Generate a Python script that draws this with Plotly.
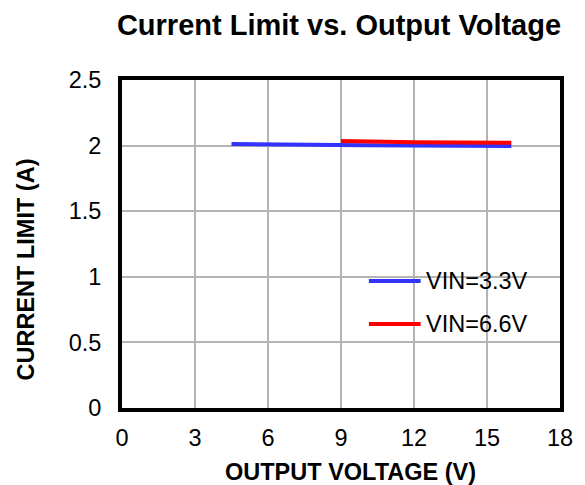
import plotly.graph_objects as go

# Data
vin33_x = [4.5, 6, 8, 10, 12, 14, 16]
vin33_y = [2.012, 2.008, 2.005, 2.003, 2.000, 1.998, 1.997]
vin66_x = [9, 10, 12, 14, 16]
vin66_y = [2.036, 2.031, 2.026, 2.023, 2.021]
names = ["VIN=3.3V", "VIN=6.6V"]
colors = ["#3333ff", "#ff0000"]
x_ticks = [0, 3, 6, 9, 12, 15, 18]
y_ticks = [0, 0.5, 1, 1.5, 2, 2.5]
y_tick_labels = ["0", "0.5", "1", "1.5", "2", "2.5"]

FONT = "Liberation Sans, Arial, sans-serif"
FS = 23.5

fig = go.Figure()
for xs, ys, nm, c in [(vin33_x, vin33_y, names[0], colors[0]), (vin66_x, vin66_y, names[1], colors[1])]:
    fig.add_trace(go.Scatter(x=xs, y=ys, mode="lines", name=nm,
                             line=dict(color=c, width=4), showlegend=False))

W, H = 585, 485
L, R, T, B = 122, 23, 80, 77
pw, ph = W - L - R, H - T - B

def px(xpix):
    return (xpix - L) / pw

def py(ypix):
    return 1 - (ypix - T) / ph

shapes = [dict(type="rect", xref="paper", yref="paper",
               x0=px(351), x1=px(548), y0=py(345), y1=py(260),
               fillcolor="white", line=dict(width=0), layer="between")]
annotations = []
for i, (nm, c) in enumerate(zip(names, colors)):
    yy = 281 + 43 * i
    shapes.append(dict(type="line", xref="paper", yref="paper",
                       x0=px(370), x1=px(422), y0=py(yy), y1=py(yy),
                       line=dict(color=c, width=4), layer="above"))
    annotations.append(dict(xref="paper", yref="paper", x=px(425), y=py(yy),
                            xanchor="left", yanchor="middle", text=nm, showarrow=False,
                            font=dict(family=FONT, size=FS, color="black")))

# axis titles
annotations.append(dict(xref="paper", yref="paper", x=px(351.5), y=py(472.5),
                        xanchor="center", yanchor="middle", text="<b>OUTPUT VOLTAGE (V)</b>",
                        showarrow=False, font=dict(family=FONT, size=FS, color="black")))
annotations.append(dict(xref="paper", yref="paper", x=px(26), y=py(269),
                        xanchor="center", yanchor="middle", text="<b>CURRENT LIMIT (A)</b>",
                        textangle=-90, showarrow=False,
                        font=dict(family=FONT, size=FS, color="black")))

fig.update_layout(
    width=W, height=H,
    margin=dict(l=L, r=R, t=T, b=B),
    paper_bgcolor="white", plot_bgcolor="white",
    title=dict(text="<b>Current Limit vs. Output Voltage</b>", x=px(340), xref="paper",
               y=1 - 25 / H, yref="container", xanchor="center", yanchor="middle",
               font=dict(family=FONT, size=29, color="black")),
    xaxis=dict(range=[0, 18], tickvals=x_ticks, showgrid=True, gridcolor="#b4b4b4", gridwidth=1.5,
               showline=True, linecolor="black", linewidth=4, mirror=True, ticks="",
               ticklabelstandoff=6,
               zeroline=False, tickfont=dict(family=FONT, size=FS, color="black")),
    yaxis=dict(range=[0, 2.5], tickvals=y_ticks, ticktext=y_tick_labels, showgrid=True,
               gridcolor="#b4b4b4", gridwidth=1.5,
               showline=True, linecolor="black", linewidth=4, mirror=True, ticks="",
               ticklabelstandoff=12,
               zeroline=False, tickfont=dict(family=FONT, size=FS, color="black")),
    shapes=shapes, annotations=annotations,
)

fig.write_html("out.html", config={"displayModeBar": False},
               post_script="document.body.style.margin='0';")
